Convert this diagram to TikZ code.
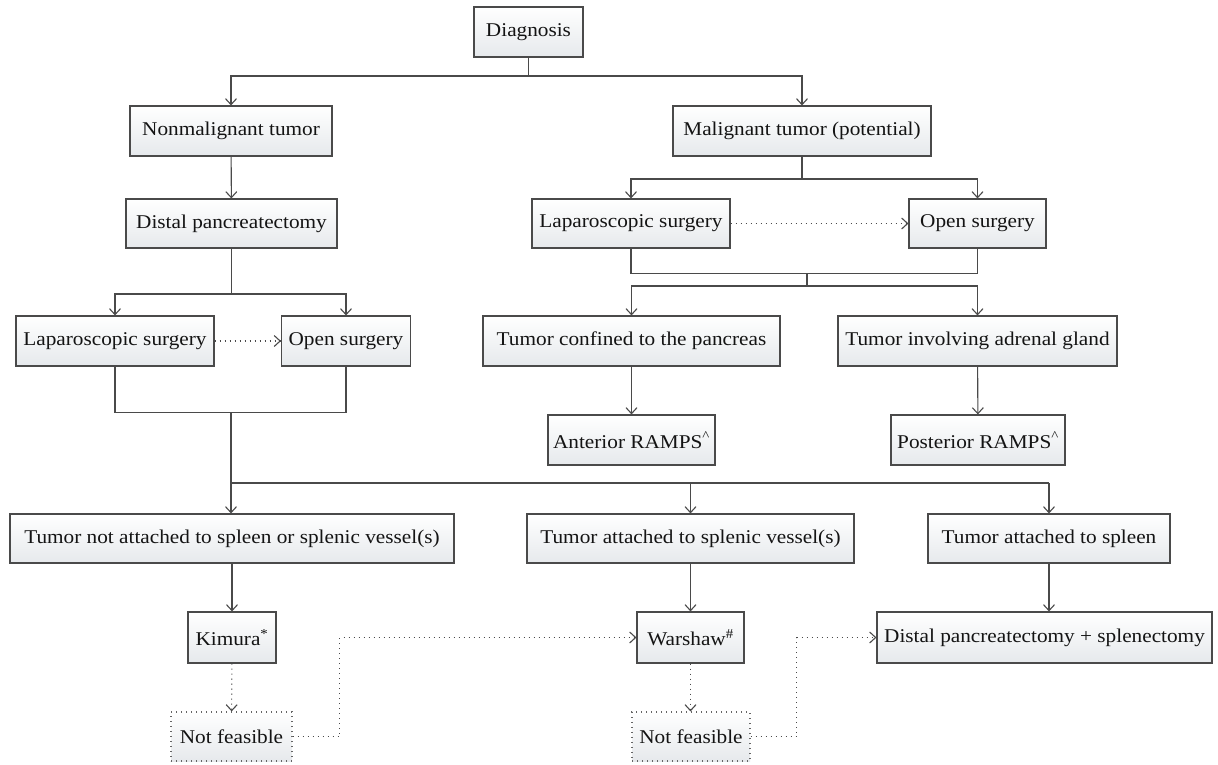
\documentclass[tikz,border=0pt]{standalone}
\usepackage{fontspec}
\setmainfont[FakeStretch=1.09]{Liberation Serif}
\usetikzlibrary{arrows.meta}
\definecolor{linec}{HTML}{4A4A4A}
\definecolor{boxbot}{HTML}{E6E9EC}
\tikzset{
  box/.style={draw=linec, line width=1.1pt, top color=white, bottom color=boxbot,
    minimum height=50pt, inner sep=0pt, font=\fontsize{19.5}{23}\selectfont, text=black!92},
  dbox/.style={box, dash pattern=on 1pt off 4pt, draw=linec!85},
  conn/.style={draw=linec, line width=1.1pt},
  arr/.style={conn, -{Straight Barb[length=6pt,width=11pt]}},
  darr/.style={arr, dash pattern=on 1pt off 4pt},
}
\begin{document}
\begin{tikzpicture}[x=1pt,y=-1pt]
\useasboundingbox (0,0) rectangle (1218,765);
% nodes
\node[box, minimum width=109pt] (diag) at (528.5,32) {Diagnosis};
\node[box, minimum width=202pt] (nonmal) at (231,131) {Nonmalignant tumor};
\node[box, minimum width=258pt] (mal) at (802,131) {Malignant tumor (potential)};
\node[box, minimum width=211pt, minimum height=49pt] (distal) at (231.5,223.5) {Distal pancreatectomy};
\node[box, minimum width=198pt] (lapL) at (115,341) {Laparoscopic surgery};
\node[box, minimum width=129pt] (openL) at (346,341) {Open surgery};
\node[box, minimum width=198pt, minimum height=49pt] (lapR) at (631,223.5) {Laparoscopic surgery};
\node[box, minimum width=137pt, minimum height=49pt] (openR) at (977.5,223.5) {Open surgery};
\node[box, minimum width=297pt] (confined) at (631.5,341) {Tumor confined to the pancreas};
\node[box, minimum width=279pt] (adrenal) at (977.5,341) {Tumor involving adrenal gland};
\node[box, minimum width=167pt] (antR) at (631.5,440) {Anterior RAMPS\textsuperscript{\textasciicircum}};
\node[box, minimum width=174pt] (postR) at (978,440) {Posterior RAMPS\textsuperscript{\textasciicircum}};
\node[box, minimum width=444pt, minimum height=49pt] (notatt) at (232,538.5) {Tumor not attached to spleen or splenic vessel(s)};
\node[box, minimum width=327pt, minimum height=49pt] (vessels) at (690.5,538.5) {Tumor attached to splenic vessel(s)};
\node[box, minimum width=242pt, minimum height=49pt] (spleen) at (1049,538.5) {Tumor attached to spleen};
\node[box, minimum width=88pt, minimum height=51pt] (kimura) at (232,637.5) {Kimura\textsuperscript{*}};
\node[box, minimum width=107pt, minimum height=51pt] (warshaw) at (690.5,637.5) {Warshaw\textsuperscript{\#}};
\node[box, minimum width=335pt, minimum height=51pt] (dps) at (1044.5,637.5) {Distal pancreatectomy + splenectomy};
\node[dbox, minimum width=121pt, minimum height=49pt] (nf1) at (231.5,736.5) {Not feasible};
\node[dbox, minimum width=118pt, minimum height=49pt] (nf2) at (691,736.5) {Not feasible};
% junction coordinates
\coordinate (j1) at (528.5,76);
\coordinate (j2) at (231.5,294);
\coordinate (j3) at (231,412);
\coordinate (j4) at (231,483);
\coordinate (j5) at (802,179);
\coordinate (j6) at (807,273);
\coordinate (j7) at (807,286);
% left branch
\draw[conn] (diag.south) -- (j1);
\draw[arr] (j1) -| (nonmal.north);
\draw[arr] (j1) -| (mal.north);
\draw[arr] (nonmal) -- (distal);
\draw[conn] (distal.south) -- (j2);
\draw[arr] (j2) -| (lapL.north);
\draw[arr] (j2) -| (openL.north);
\draw[darr] (lapL) -- (openL);
\draw[conn] (lapL.south) -- ++(0,46) -| (openL.south);
\draw[arr] (j3) -- (j3 |- notatt.north);
\draw[conn] (j4) -- (j4 -| spleen.north);
\draw[arr] (j4 -| vessels.north) -- (vessels.north);
\draw[arr] (j4 -| spleen.north) -- (spleen.north);
% right branch
\draw[conn] (mal.south) -- (j5);
\draw[arr] (j5) -| (lapR.north);
\draw[arr] (j5) -| (openR.north);
\draw[darr] (lapR) -- (openR);
\draw[conn] (lapR.south) -- ++(0,25) -| (openR.south);
\draw[conn] (j6) -- (j7);
\draw[arr] (j7) -| (confined.north);
\draw[arr] (j7) -| (adrenal.north);
\draw[arr] (confined) -- (antR);
\draw[arr] (adrenal) -- (postR);
% bottom
\draw[arr] (notatt) -- (kimura);
\draw[arr] (vessels) -- (warshaw);
\draw[arr] (spleen.south) -- (spleen.south |- dps.north);
\draw[darr] (kimura) -- (nf1);
\draw[darr] (warshaw.south) -- (warshaw.south |- nf2.north);
\draw[darr] (nf1.east) -- ++(47,0) |- (warshaw.west);
\draw[darr] (nf2.east) -- ++(46,0) |- (dps.west);
\end{tikzpicture}
\end{document}
